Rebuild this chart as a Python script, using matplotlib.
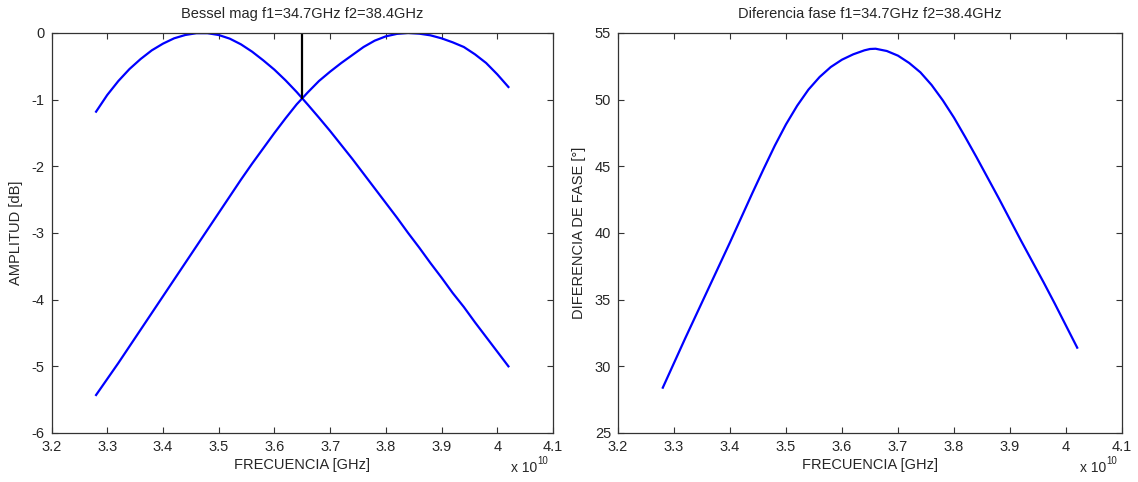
import matplotlib
matplotlib.use("Agg")
import matplotlib.pyplot as plt

# Frequency axis in units of 1e10 Hz
freq = [3.28, 3.30, 3.32, 3.34, 3.36, 3.38, 3.40, 3.42, 3.44, 3.46, 3.48, 3.50,
        3.52, 3.54, 3.56, 3.58, 3.60, 3.62, 3.64, 3.65, 3.66, 3.68, 3.70, 3.72,
        3.74, 3.76, 3.78, 3.80, 3.82, 3.84, 3.86, 3.88, 3.90, 3.92, 3.94, 3.96,
        3.98, 4.00, 4.02]

# Magnitude [dB] of response centred on f1 = 34.7 GHz
mag_f1 = [-1.18, -0.93, -0.72, -0.54, -0.39, -0.26, -0.16, -0.08, -0.03, -0.003,
          -0.003, -0.03, -0.085, -0.17, -0.28, -0.41, -0.55, -0.71, -0.885, -0.98,
          -1.075, -1.27, -1.47, -1.68, -1.89, -2.11, -2.33, -2.55, -2.77, -3.00,
          -3.22, -3.45, -3.67, -3.90, -4.11, -4.34, -4.56, -4.78, -5.00]

# Magnitude [dB] of response centred on f2 = 38.4 GHz
mag_f2 = [-5.43, -5.19, -4.95, -4.70, -4.45, -4.20, -3.95, -3.70, -3.45, -3.20,
          -2.95, -2.70, -2.45, -2.20, -1.96, -1.73, -1.50, -1.28, -1.07, -0.98,
          -0.89, -0.72, -0.58, -0.45, -0.33, -0.21, -0.115, -0.05, -0.013, 0.0,
          -0.01, -0.035, -0.08, -0.14, -0.21, -0.32, -0.45, -0.62, -0.81]

# Phase difference [deg]
phase_diff = [28.4, 30.25, 32.1, 33.9, 35.7, 37.5, 39.3, 41.15, 43.0, 44.8,
              46.55, 48.15, 49.55, 50.75, 51.7, 52.45, 53.0, 53.4, 53.7, 53.8,
              53.82, 53.65, 53.3, 52.75, 52.05, 51.1, 49.95, 48.65, 47.2, 45.7,
              44.15, 42.6, 41.0, 39.4, 37.85, 36.3, 34.7, 33.05, 31.4]

# Vertical marker at the crossing
marker_freq = [3.65, 3.65]
marker_db = [-0.98, 0.0]

xticks = [3.2, 3.3, 3.4, 3.5, 3.6, 3.7, 3.8, 3.9, 4.0, 4.1]
xticklabels = ["3.2", "3.3", "3.4", "3.5", "3.6", "3.7", "3.8", "3.9", "4", "4.1"]
yticks_mag = [-6, -5, -4, -3, -2, -1, 0]
yticks_phase = [25, 30, 35, 40, 45, 50, 55]

plt.rcParams["font.family"] = ["Liberation Sans", "DejaVu Sans"]
FS = 10.5
TXT = "#262626"

fig = plt.figure(figsize=(11.38, 4.82), dpi=100)
W, H = 1138.0, 482.0
ax1 = fig.add_axes([51.5 / W, 49 / H, 501.5 / W, 400 / H])
ax2 = fig.add_axes([618 / W, 49 / H, 504 / W, 400 / H])


def style(ax, width_px):
    for s in ax.spines.values():
        s.set_color("#333333")
        s.set_linewidth(0.9)
    ax.tick_params(direction="in", top=True, right=True, length=4.5, width=0.8,
                   color="#333333", labelsize=FS, labelcolor=TXT, pad=5)
    ax.set_xlim(3.2, 4.1)
    ax.set_xticks(xticks)
    ax.set_xticklabels(xticklabels)
    ax.set_xlabel("FRECUENCIA [GHz]", fontsize=FS, color=TXT, labelpad=3)
    xr = 1.0 - 16.0 / width_px
    ax.text(xr, -39.5 / 400, "x 10", transform=ax.transAxes, ha="right",
            va="baseline", fontsize=FS - 0.5, color=TXT)
    ax.text(xr + 0.5 / width_px, -31.5 / 400, "10", transform=ax.transAxes,
            ha="left", va="baseline", fontsize=FS - 3.5, color=TXT)


ax1.plot(freq, mag_f1, color="#0000ff", lw=1.6)
ax1.plot(freq, mag_f2, color="#0000ff", lw=1.6)
ax1.plot(marker_freq, marker_db, color="black", lw=1.6)
style(ax1, 501.5)
ax1.set_ylim(-6, 0)
ax1.set_yticks(yticks_mag)
ax1.set_yticklabels([str(v) for v in yticks_mag])
ax1.set_ylabel("AMPLITUD [dB]", fontsize=FS, color=TXT, labelpad=6)
ax1.set_title("Bessel mag f1=34.7GHz f2=38.4GHz", fontsize=FS, color=TXT, pad=10.5)

ax2.plot(freq, phase_diff, color="#0000ff", lw=1.6)
style(ax2, 504.0)
ax2.set_ylim(25, 55)
ax2.set_yticks(yticks_phase)
ax2.set_yticklabels([str(v) for v in yticks_phase])
ax2.set_ylabel("DIFERENCIA DE FASE [\u00b0]", fontsize=FS, color=TXT, labelpad=6)
ax2.set_title("Diferencia fase f1=34.7GHz f2=38.4GHz", fontsize=FS, color=TXT, pad=10.5)

fig.savefig("out.png", dpi=100, facecolor="white")
